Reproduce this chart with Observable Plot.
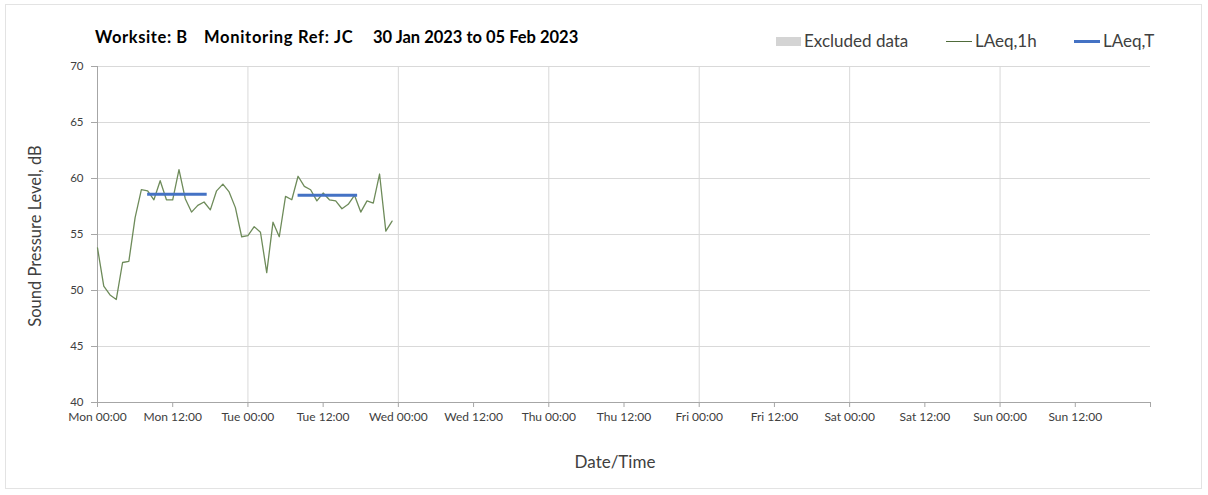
<!DOCTYPE html>
<html>
<head>
<meta charset="utf-8">
<script src="https://cdn.jsdelivr.net/npm/d3@7"></script>
<script src="https://cdn.jsdelivr.net/npm/@observablehq/plot@0.6"></script>
<style>
  html, body { margin: 0; padding: 0; background: #fff; }
  #wrap { position: relative; width: 1208px; height: 495px; font-family: Lato, "Open Sans", sans-serif; color: #404040; }
  #frame { position: absolute; left: 5px; top: 4px; width: 1197px; height: 485px; border: 1px solid #e3e3e3; box-sizing: border-box; }
  #chart { position: absolute; left: 0; top: 0; }
  .t { position: absolute; white-space: nowrap; }
  .title { font-weight: bold; font-size: 16.5px; color: #000; top: 27px; }
  .leg { font-size: 17px; top: 30px; color: #404040; }
  .sw { position: absolute; }
</style>
</head>
<body>
<div id="wrap">
  <div id="frame"></div>
  <div id="chart"></div>
  <div class="t title" style="left:95px; letter-spacing:0.6px">Worksite: B</div>
  <div class="t title" style="left:204px; letter-spacing:0.7px">Monitoring Ref: JC</div>
  <div class="t title" style="left:373px">30 Jan 2023 to 05 Feb 2023</div>

  <div class="sw" style="left:776px; top:37px; width:25px; height:9px; background:#d4d4d4"></div>
  <div class="t leg" style="left:804px">Excluded data</div>
  <div class="sw" style="left:946px; top:41px; width:26px; height:1px; background:#4f6b3a"></div>
  <div class="t leg" style="left:975px">LAeq,1h</div>
  <div class="sw" style="left:1074px; top:40px; width:26px; height:3px; background:#4472c4"></div>
  <div class="t leg" style="left:1103px">LAeq,T</div>

  <div class="t" style="left:35px; top:236px; font-size:16.5px; transform: translate(-50%,-50%) rotate(-90deg);">Sound Pressure Level, dB</div>
  <div class="t" style="left:615px; top:461px; font-size:17px; transform: translate(-50%,-50%);">Date/Time</div>
</div>
<script>
// ---- Data ----
const periodStart = "2023-01-30T00:00Z";
const periodEnd = "2023-02-06T00:00Z";

// Hourly LAeq,1h values starting Mon 30 Jan 2023 00:00
const laeq1h = [
  53.8, 50.4, 49.6, 49.2, 52.5, 52.6, 56.5, 59.0, 58.9, 58.1, 59.8, 58.1,
  58.1, 60.8, 58.2, 57.0, 57.6, 57.9, 57.2, 58.9, 59.5, 58.8, 57.4, 54.8,
  54.9, 55.7, 55.2, 51.6, 56.1, 54.8, 58.4, 58.1, 60.2, 59.3, 59.0, 58.0,
  58.7, 58.1, 58.0, 57.3, 57.7, 58.5, 57.0, 58.0, 57.8, 60.4, 55.3, 56.2
];

// LAeq,T daytime periods
const laeqTStart = ["2023-01-30T08:00Z", "2023-01-31T08:00Z"];
const laeqTEnd = ["2023-01-30T17:30Z", "2023-01-31T17:30Z"];
const laeqTValue = [58.6, 58.5];

const yTicks = [40, 45, 50, 55, 60, 65, 70];
const dayLines = ["2023-01-31T00:00Z", "2023-02-01T00:00Z", "2023-02-02T00:00Z", "2023-02-03T00:00Z", "2023-02-04T00:00Z", "2023-02-05T00:00Z"];

// ---- Build ----
const t0 = new Date(periodStart);
const t1 = new Date(periodEnd);
const hourly = laeq1h.map((v, i) => ({time: d3.utcHour.offset(t0, i), value: v}));
const periods = laeqTValue.map((v, i) => ({start: new Date(laeqTStart[i]), end: new Date(laeqTEnd[i]), value: v}));
const xTicks = d3.utcHour.every(12).range(t0, d3.utcHour.offset(t1, 1));
const fmt = d3.utcFormat("%a %H:%M");

const chart = Plot.plot({
  width: 1208,
  height: 495,
  marginTop: 66,
  marginLeft: 97,
  marginRight: 58,
  marginBottom: 93,
  style: {fontFamily: "Lato, 'Open Sans', sans-serif", fontSize: "12px", color: "#404040", background: "transparent"},
  x: {type: "utc", domain: [t0, t1], label: null},
  y: {domain: [40, 70], label: null},
  marks: [
    Plot.gridY(yTicks, {stroke: "#d9d9d9", strokeOpacity: 1}),
    Plot.ruleX(dayLines.map(d => new Date(d)), {stroke: "#d9d9d9"}),
    Plot.ruleX([t0], {stroke: "#a6a6a6"}),
    Plot.ruleY([40], {stroke: "#a6a6a6"}),
    Plot.axisY({ticks: yTicks, tickSize: 6, tickPadding: 8, stroke: "#a6a6a6", fill: "#404040", fontSize: 11.5, label: null}),
    Plot.axisX({ticks: xTicks, tickSize: 5, tickPadding: 5, stroke: "#a6a6a6", fill: "#404040", fontSize: 12,
      tickFormat: d => (+d >= +t1 ? "" : fmt(d)), label: null}),
    Plot.line(hourly, {x: "time", y: "value", stroke: "#6e8b5a", strokeWidth: 1.3}),
    Plot.ruleY(periods, {y: "value", x1: "start", x2: "end", stroke: "#4472c4", strokeWidth: 3})
  ]
});
document.getElementById("chart").appendChild(chart);
</script>
</body>
</html>
